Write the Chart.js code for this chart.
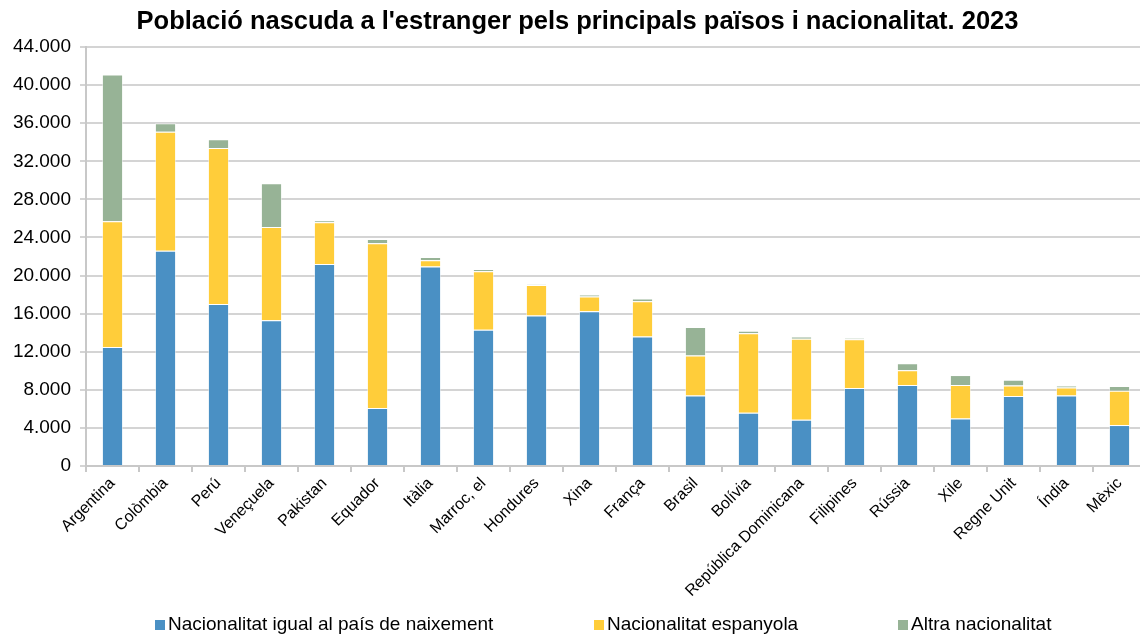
<!DOCTYPE html>
<html lang="ca">
<head>
<meta charset="utf-8">
<title>Població nascuda a l'estranger pels principals països i nacionalitat. 2023</title>
<script src="https://cdn.jsdelivr.net/npm/chart.js@4/dist/chart.umd.min.js"></script>
<style>
  html, body { margin: 0; padding: 0; background: #fff; overflow: hidden; }
  #wrap { width: 1150px; height: 634px; }
</style>
</head>
<body>
<div id="wrap"><canvas id="chart" width="1150" height="634"></canvas></div>
<script>
const chartTitle = "Població nascuda a l'estranger pels principals països i nacionalitat. 2023";

const categories = ["Argentina", "Colòmbia", "Perú", "Veneçuela", "Pakistan", "Equador", "Itàlia",
  "Marroc, el", "Hondures", "Xina", "França", "Brasil", "Bolívia", "República Dominicana",
  "Filipines", "Rússia", "Xile", "Regne Unit", "Índia", "Mèxic"];

const seriesNames = ["Nacionalitat igual al país de naixement", "Nacionalitat espanyola", "Altra nacionalitat"];

const natSame    = [12500, 22600, 17000, 15300, 21200, 6100, 20950, 14300, 15800, 16250, 13600, 7400, 5600, 4850, 8200, 8500, 5000, 7350, 7400, 4300];
const natSpanish = [13200, 12500, 16400, 9800, 4400, 17300, 650, 6150, 3200, 1550, 3700, 4200, 8350, 8500, 5100, 1550, 3500, 1100, 850, 3600];
const natOther   = [15400, 900, 900, 4600, 200, 450, 350, 250, 60, 200, 300, 3000, 250, 250, 150, 750, 1050, 600, 200, 500];

const yTicks = [0, 4000, 8000, 12000, 16000, 20000, 24000, 28000, 32000, 36000, 40000, 44000];

const colors = ["#4a90c4", "#ffcd3a", "#97b396"];
const FONT = '"Liberation Sans", Arial, Helvetica, sans-serif';

// Thousands separator with a dot
const fmt = v => String(v).replace(/\B(?=(\d{3})+(?!\d))/g, ".");

// Title at the top and a spaced-out legend under the axis labels
const titleAndLegend = {
  id: 'titleAndLegend',
  afterDraw(chart) {
    const ctx = chart.ctx;
    ctx.save();
    ctx.fillStyle = '#000';
    ctx.font = 'bold 25.5px ' + FONT;
    ctx.textAlign = 'center';
    ctx.textBaseline = 'alphabetic';
    ctx.fillText(chartTitle, 577.5, 29);

    const xs = [155, 594, 898];
    ctx.font = '19px ' + FONT;
    ctx.textAlign = 'left';
    ctx.textBaseline = 'middle';
    chart.data.datasets.forEach((ds, i) => {
      ctx.fillStyle = ds.backgroundColor;
      ctx.fillRect(xs[i], 620, 10, 10);
      ctx.fillStyle = '#000';
      ctx.fillText(ds.label, xs[i] + 13, 625);
    });
    ctx.restore();
  }
};

const mkSet = (i, data) => ({
  label: seriesNames[i],
  data: data,
  backgroundColor: colors[i],
  borderColor: 'rgba(255,255,255,0.5)',
  borderWidth: 1,
  categoryPercentage: 1.0,
  barPercentage: 0.4
});

new Chart(document.getElementById('chart'), {
  type: 'bar',
  data: {
    labels: categories,
    datasets: [mkSet(0, natSame), mkSet(1, natSpanish), mkSet(2, natOther)]
  },
  options: {
    responsive: false,
    animation: false,
    layout: { padding: { top: 47, left: 0, right: 4, bottom: 0 } },
    plugins: {
      legend: { display: false },
      title: { display: false },
      tooltip: { enabled: false }
    },
    scales: {
      x: {
        stacked: true,
        offset: true,
        grid: { display: true, drawOnChartArea: false, offset: true, tickLength: 6, color: '#c8c8c8', lineWidth: 2 },
        border: { display: true, color: '#c8c8c8', width: 2 },
        ticks: {
          color: '#000',
          font: { family: FONT, size: 16 },
          minRotation: 45,
          maxRotation: 45,
          autoSkip: false,
          padding: 2
        },
        afterFit(scale) { scale.height = 168; }
      },
      y: {
        stacked: true,
        min: 0,
        max: 44000,
        afterBuildTicks(scale) { scale.ticks = yTicks.map(v => ({ value: v })); },
        grid: { color: '#d4d4d4', lineWidth: 2, tickLength: 6 },
        border: { display: true, color: '#c8c8c8', width: 2 },
        ticks: {
          color: '#000',
          font: { family: FONT, size: 19 },
          padding: 9,
          callback: v => fmt(v)
        },
        afterFit(scale) { scale.width = 86; }
      }
    }
  },
  plugins: [titleAndLegend]
});
</script>
</body>
</html>
